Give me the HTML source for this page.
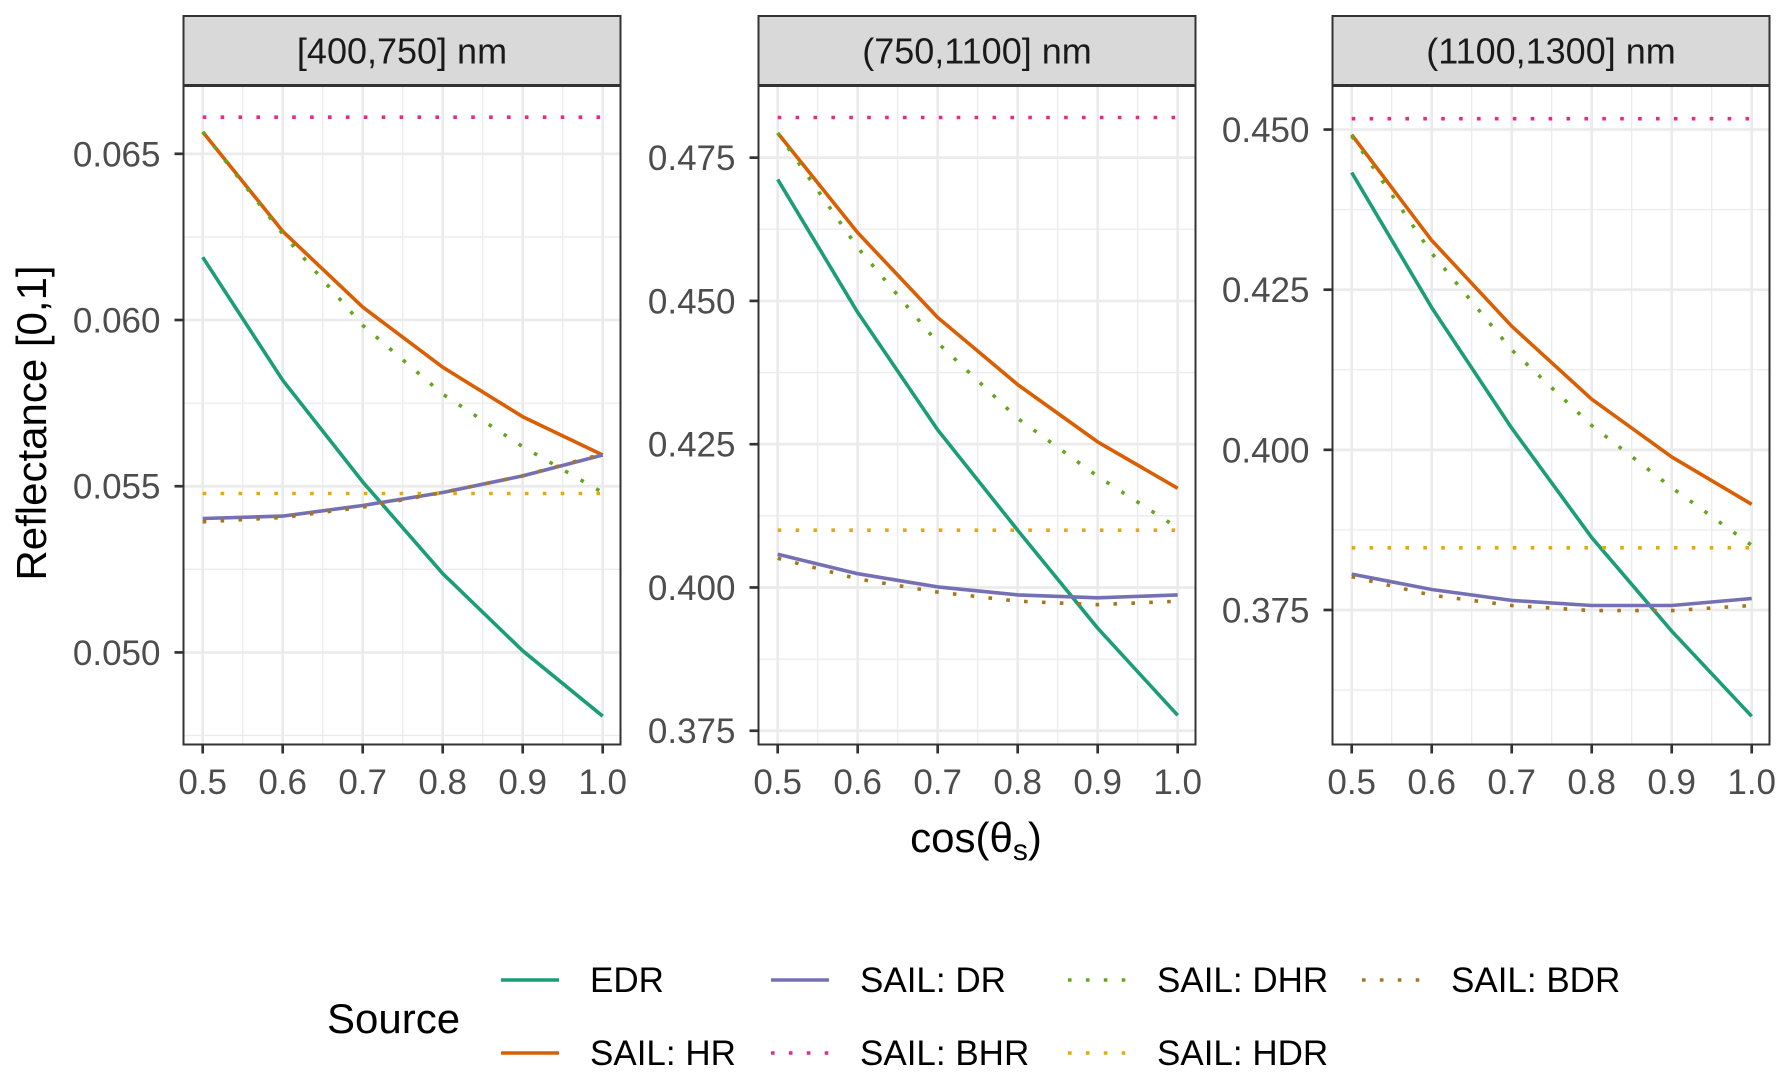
<!DOCTYPE html>
<html><head><meta charset="utf-8">
<style>
html,body{margin:0;padding:0;background:#fff;}
svg{display:block;font-family:"Liberation Sans",Arial,sans-serif;}
</style></head>
<body>
<svg id="chart" width="1790" height="1081" viewBox="0 0 1790 1081" xmlns="http://www.w3.org/2000/svg">
<rect width="1790" height="1081" fill="#fff"/>
<g id="panels"></g>
<text transform="translate(46,423) rotate(-90)" text-anchor="middle" font-size="42" fill="#000">Reflectance [0,1]</text>
<text x="976" y="852" text-anchor="middle" font-size="42" fill="#000">cos(θ<tspan font-size="30" dy="8">s</tspan><tspan dy="-8">)</tspan></text>
<g id="legend"></g>
</svg>
<script>
const xValues = [0.5, 0.6, 0.7, 0.8, 0.9, 1.0];
const xTicks = [0.5, 0.6, 0.7, 0.8, 0.9, 1.0];
const xTickLabels = ["0.5", "0.6", "0.7", "0.8", "0.9", "1.0"];
const panelTitles = ["[400,750] nm", "(750,1100] nm", "(1100,1300] nm"];
const seriesNames = ["EDR", "SAIL: HR", "SAIL: DR", "SAIL: BHR", "SAIL: DHR", "SAIL: HDR", "SAIL: BDR"];
const yTicksP1 = [0.050, 0.055, 0.060, 0.065];
const yTickLabelsP1 = ["0.050", "0.055", "0.060", "0.065"];
const yTicksP2 = [0.375, 0.400, 0.425, 0.450, 0.475];
const yTickLabelsP2 = ["0.375", "0.400", "0.425", "0.450", "0.475"];
const yTicksP3 = [0.375, 0.400, 0.425, 0.450];
const yTickLabelsP3 = ["0.375", "0.400", "0.425", "0.450"];
const yDomainP1 = [0.04723, 0.06704];
const yDomainP2 = [0.3726, 0.4875];
const yDomainP3 = [0.3540, 0.4568];
// panel 1 values
const p1EDR = [0.06189, 0.05819, 0.05513, 0.05237, 0.05005, 0.04808];
const p1HR  = [0.06566, 0.06267, 0.06039, 0.05858, 0.05709, 0.05594];
const p1DR  = [0.05403, 0.05410, 0.05442, 0.05481, 0.05531, 0.05594];
const p1BHR = [0.06610, 0.06610, 0.06610, 0.06610, 0.06610, 0.06610];
const p1DHR = [0.06566, 0.06259, 0.05984, 0.05777, 0.05619, 0.05481];
const p1HDR = [0.05478, 0.05478, 0.05478, 0.05478, 0.05478, 0.05478];
const p1BDR = [0.05393, 0.05406, 0.05437, 0.05481, 0.05531, 0.05597];
// panel 2 values
const p2EDR = [0.4712, 0.4480, 0.4275, 0.4100, 0.3929, 0.3777];
const p2HR  = [0.4793, 0.4619, 0.4471, 0.4354, 0.4254, 0.4173];
const p2DR  = [0.4058, 0.4024, 0.4001, 0.3987, 0.3982, 0.3987];
const p2BHR = [0.4820, 0.4820, 0.4820, 0.4820, 0.4820, 0.4820];
const p2DHR = [0.4793, 0.4593, 0.4427, 0.4295, 0.4194, 0.4104];
const p2HDR = [0.4100, 0.4100, 0.4100, 0.4100, 0.4100, 0.4100];
const p2BDR = [0.4051, 0.4015, 0.3992, 0.3976, 0.3970, 0.3976];
// panel 3 values
const p3EDR = [0.4433, 0.4222, 0.4034, 0.3863, 0.3717, 0.3584];
const p3HR  = [0.4492, 0.4327, 0.4193, 0.4079, 0.3989, 0.3915];
const p3DR  = [0.3806, 0.3782, 0.3765, 0.3757, 0.3757, 0.3768];
const p3BHR = [0.4517, 0.4517, 0.4517, 0.4517, 0.4517, 0.4517];
const p3DHR = [0.4490, 0.4307, 0.4156, 0.4038, 0.3941, 0.3851];
const p3HDR = [0.3847, 0.3847, 0.3847, 0.3847, 0.3847, 0.3847];
const p3BDR = [0.3802, 0.3773, 0.3757, 0.3749, 0.3749, 0.3757];

const colors = ["#1b9e77","#d95f02","#7570b3","#e7298a","#66a61e","#e6ab02","#a6761d"];
const dotted = [false,false,false,true,true,true,true];
const drawOrder = [0,1,2,3,4,5,6];
const NS = "http://www.w3.org/2000/svg";
function mk(tag, attrs, parent){const e=document.createElementNS(NS,tag);for(const k in attrs)e.setAttribute(k,attrs[k]);if(parent)parent.appendChild(e);return e;}

const panelLefts = [183.5, 758.5, 1332.5];
const PW = 437, PT = 86, PB = 744.5, ST = 16, SB = 85;
const panels = [
  {ticks:yTicksP1, labels:yTickLabelsP1, dom:yDomainP1, series:[p1EDR,p1HR,p1DR,p1BHR,p1DHR,p1HDR,p1BDR]},
  {ticks:yTicksP2, labels:yTickLabelsP2, dom:yDomainP2, series:[p2EDR,p2HR,p2DR,p2BHR,p2DHR,p2HDR,p2BDR]},
  {ticks:yTicksP3, labels:yTickLabelsP3, dom:yDomainP3, series:[p3EDR,p3HR,p3DR,p3BHR,p3DHR,p3HDR,p3BDR]}
];
const root = document.getElementById("panels");
panels.forEach((p, i) => {
  const L = panelLefts[i];
  const xs = v => L + 19.2 + (v - 0.5) / 0.5 * 400;
  const ys = v => PB - (v - p.dom[0]) / (p.dom[1] - p.dom[0]) * (PB - PT);
  const g = mk("g", {}, root);
  
  
  mk("rect", {x:L, y:PT, width:PW, height:PB-PT, fill:"#fff"}, g);
  const step = p.ticks[1]-p.ticks[0];
  const minorY = [];
  for (let k=-1;k<p.ticks.length;k++){ minorY.push(p.ticks[0]+step*(k+0.5)); }
  minorY.forEach(v => { const y=ys(v); if(y>PT&&y<PB) mk("line",{x1:L,x2:L+PW,y1:y,y2:y,stroke:"#ebebeb","stroke-width":1.3},g); });
  for (let k=0;k<xTicks.length-1;k++){ const x=xs((xTicks[k]+xTicks[k+1])/2); mk("line",{x1:x,x2:x,y1:PT,y2:PB,stroke:"#ebebeb","stroke-width":1.3},g); }
  p.ticks.forEach(v => { const y=ys(v); mk("line",{x1:L,x2:L+PW,y1:y,y2:y,stroke:"#ebebeb","stroke-width":2.7},g); });
  xTicks.forEach(v => { const x=xs(v); mk("line",{x1:x,x2:x,y1:PT,y2:PB,stroke:"#ebebeb","stroke-width":2.7},g); });
  drawOrder.forEach(si => {
    const vals = p.series[si];
    const pts = vals.map((v,j)=> xs(xValues[j]).toFixed(1)+","+ys(v).toFixed(1)).join(" ");
    const pl = mk("polyline",{points:pts,fill:"none",stroke:colors[si],"stroke-width":3.6,"stroke-linejoin":"round"},g);
    if (dotted[si]) pl.setAttribute("stroke-dasharray","3.6 14.3");
    
    
  });
  mk("rect",{x:L,y:PT,width:PW,height:PB-PT,fill:"none",stroke:"#333","stroke-width":2},g);
  const sr = mk("rect",{x:L,y:ST,width:PW,height:SB-ST,fill:"#d9d9d9",stroke:"#333","stroke-width":2},g);
  
  
  const st = mk("text",{x:L+PW/2,y:(ST+SB)/2+13,"text-anchor":"middle","font-size":36,fill:"#1a1a1a"},g);
  st.textContent = panelTitles[i];
  
  
  p.ticks.forEach((v,k) => {
    const y=ys(v);
    mk("line",{x1:L-9,x2:L,y1:y,y2:y,stroke:"#333","stroke-width":2.7},g);
    const t = mk("text",{x:L-23,y:y+12.5,"text-anchor":"end","font-size":35,fill:"#4d4d4d"},g);
    t.textContent = p.labels[k];
    
    
  });
  xTicks.forEach((v,k) => {
    const x=xs(v);
    mk("line",{x1:x,x2:x,y1:PB,y2:PB+9,stroke:"#333","stroke-width":2.7},g);
    const t = mk("text",{x:x,y:794,"text-anchor":"middle","font-size":35,fill:"#4d4d4d"},g);
    t.textContent = xTickLabels[k];
    
    
  });
});
const lg = document.getElementById("legend");
const lt = mk("text",{x:327,y:1033,"font-size":42,fill:"#000"},lg);
lt.textContent = "Source";


const legCols = [501, 771, 1068, 1362];
const legRows = [980, 1053];
const legendOrder = [0,2,4,6,1,3,5];
legendOrder.forEach((si, n) => {
  const col = n < 4 ? n : n - 4, row = n < 4 ? 0 : 1;
  const x = legCols[col], y = legRows[row];
  const e = mk("g",{},lg);
  
  
  const ln = mk("line",{x1:x,x2:x+58,y1:y,y2:y,stroke:colors[si],"stroke-width":3.6},e);
  if (dotted[si]) ln.setAttribute("stroke-dasharray","3.6 14.3");
  const t = mk("text",{x:x+89,y:y+12,"font-size":35,fill:"#000"},e);
  t.textContent = seriesNames[si];
});
</script>
</body></html>
